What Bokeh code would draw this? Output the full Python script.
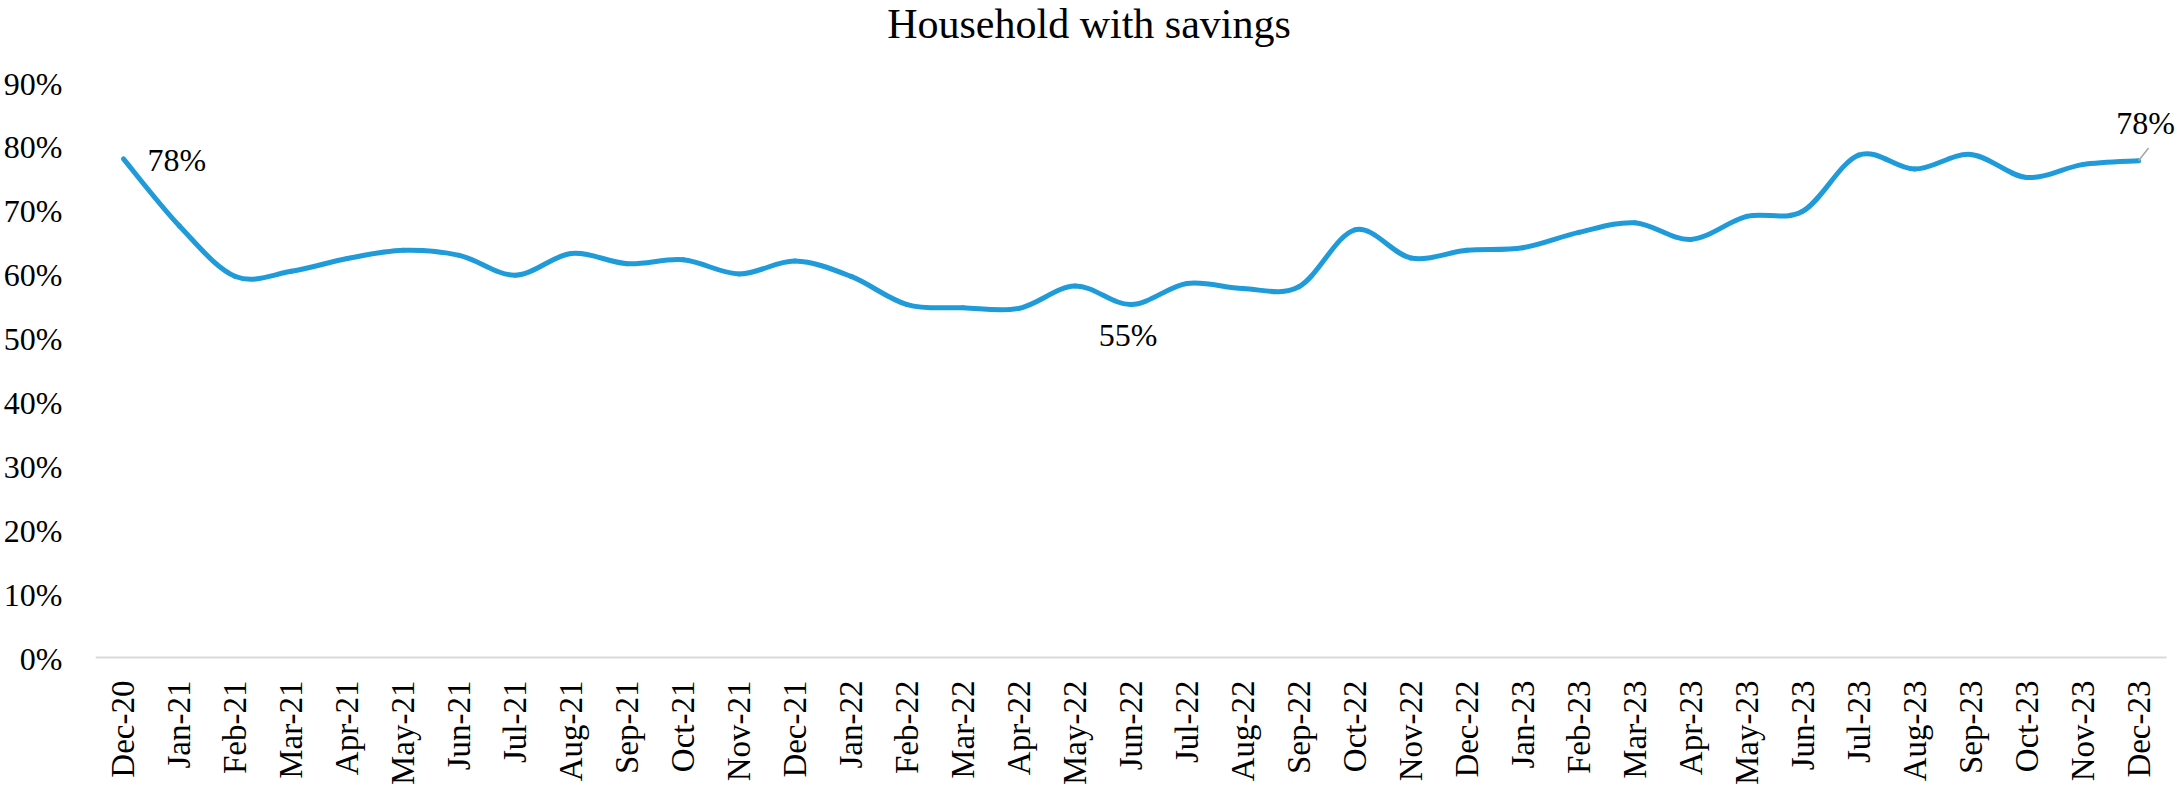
from bokeh.plotting import figure
from bokeh.models import Range1d, FixedTicker, NumeralTickFormatter, Label, ColumnDataSource
from bokeh.embed import file_html
from bokeh.resources import INLINE

title_text = "Household with savings"
categories = ["Dec-20", "Jan-21", "Feb-21", "Mar-21", "Apr-21", "May-21", "Jun-21", "Jul-21",
              "Aug-21", "Sep-21", "Oct-21", "Nov-21", "Dec-21", "Jan-22", "Feb-22", "Mar-22",
              "Apr-22", "May-22", "Jun-22", "Jul-22", "Aug-22", "Sep-22", "Oct-22", "Nov-22",
              "Dec-22", "Jan-23", "Feb-23", "Mar-23", "Apr-23", "May-23", "Jun-23", "Jul-23",
              "Aug-23", "Sep-23", "Oct-23", "Nov-23", "Dec-23"]
savings = [0.782, 0.677, 0.598, 0.606, 0.626, 0.639, 0.631, 0.600,
           0.634, 0.618, 0.624, 0.602, 0.622, 0.598, 0.554, 0.549,
           0.548, 0.583, 0.554, 0.587, 0.579, 0.582, 0.671, 0.627,
           0.639, 0.643, 0.667, 0.682, 0.656, 0.692, 0.700, 0.788,
           0.766, 0.789, 0.753, 0.773, 0.779]
y_ticks = [0.0, 0.1, 0.2, 0.3, 0.4, 0.5, 0.6, 0.7, 0.8, 0.9]
labelled = [0, 18, 36]

LINE_COLOR = "#1F9BDA"
SERIF = "Liberation Serif"

W, H = 2177, 794
LEFT, BOTTOM = 95, 136
TOP_PAD = 83          # space above the 90% level (title area)
RIGHT_PAD = 11        # space right of the last category band (label area)

n = len(categories)
xs = list(range(n))
frame_w = W - LEFT
frame_h = H - BOTTOM
unit_px = (frame_w - RIGHT_PAD) / n
x_end = (n - 0.5) + RIGHT_PAD / unit_px
y_end = y_ticks[-1] * frame_h / (frame_h - TOP_PAD)

p = figure(width=W, height=H, output_backend="svg", toolbar_location=None,
           x_range=Range1d(-0.5, x_end), y_range=Range1d(y_ticks[0], y_end),
           min_border_left=LEFT, min_border_right=0, min_border_top=0, min_border_bottom=BOTTOM)
p.outline_line_color = None
p.xgrid.visible = False
p.ygrid.visible = False
p.background_fill_color = "white"
p.border_fill_color = "white"

# smoothed line (Catmull-Rom as cubic Bezier segments, like Excel's smoothed line)
def pt(i):
    i = max(0, min(n - 1, i))
    return xs[i], savings[i]

x0, y0, x1, y1, cx0, cy0, cx1, cy1 = [], [], [], [], [], [], [], []
for i in range(n - 1):
    pa, pb, pc, pd = pt(i - 1), pt(i), pt(i + 1), pt(i + 2)
    x0.append(pb[0]); y0.append(pb[1])
    x1.append(pc[0]); y1.append(pc[1])
    cx0.append(pb[0] + (pc[0] - pa[0]) / 6.0); cy0.append(pb[1] + (pc[1] - pa[1]) / 6.0)
    cx1.append(pc[0] - (pd[0] - pb[0]) / 6.0); cy1.append(pc[1] - (pd[1] - pb[1]) / 6.0)
src = ColumnDataSource(dict(x0=x0, y0=y0, x1=x1, y1=y1, cx0=cx0, cy0=cy0, cx1=cx1, cy1=cy1))
p.bezier(x0="x0", y0="y0", x1="x1", y1="y1", cx0="cx0", cy0="cy0", cx1="cx1", cy1="cy1",
         source=src, line_color=LINE_COLOR, line_width=5, line_cap="round")

# category axis baseline (only across the category bands)
p.segment(x0=[-0.5], y0=[y_ticks[0]], x1=[n - 0.5], y1=[y_ticks[0]],
          line_color="#D9D9D9", line_width=4)

# axes
p.xaxis.ticker = FixedTicker(ticks=xs)
p.xaxis.major_label_overrides = {i: c for i, c in enumerate(categories)}
p.xaxis.major_label_orientation = 3.14159265 / 2
p.xaxis.major_label_text_font = SERIF
p.xaxis.major_label_text_font_size = "33px"
p.xaxis.major_label_text_color = "black"
p.xaxis.major_label_standoff = 22
p.xaxis.major_tick_out = 0
p.xaxis.major_tick_in = 0
p.xaxis.minor_tick_out = 0
p.xaxis.minor_tick_in = 0
p.xaxis.axis_line_color = None

p.yaxis.ticker = FixedTicker(ticks=y_ticks)
p.yaxis.formatter = NumeralTickFormatter(format="0%")
p.yaxis.major_label_text_font = SERIF
p.yaxis.major_label_text_font_size = "32px"
p.yaxis.major_label_text_color = "black"
p.yaxis.major_label_standoff = 33
p.yaxis.major_tick_out = 0
p.yaxis.major_tick_in = 0
p.yaxis.minor_tick_out = 0
p.yaxis.minor_tick_in = 0
p.yaxis.axis_line_color = None

# title (inside the frame's top padding)
p.add_layout(Label(x=W / 2 - LEFT, y=frame_h - 23, x_units="screen", y_units="screen",
                   text=title_text, text_align="center", text_baseline="middle",
                   text_font=SERIF, text_font_size="42px", text_color="black"))

# data labels
lab_style = dict(text_font=SERIF, text_font_size="32px", text_color="black")
i0, im, ie = labelled
p.add_layout(Label(x=xs[i0], y=savings[i0], text=f"{round(savings[i0]*100)}%", x_offset=24,
                   y_offset=-1, text_align="left", text_baseline="alphabetic", **lab_style))
p.add_layout(Label(x=xs[im], y=savings[im], text=f"{round(savings[im]*100)}%", x_offset=-3,
                   y_offset=-30, text_align="center", text_baseline="alphabetic", **lab_style))
p.segment(x0=[xs[ie]], y0=[savings[ie]], x1=[xs[ie] + 0.18], y1=[savings[ie] + 0.02],
          line_color="#A6A6A6", line_width=1.5)
p.add_layout(Label(x=xs[ie], y=savings[ie], text=f"{round(savings[ie]*100)}%", x_offset=7,
                   y_offset=38, text_align="center", text_baseline="alphabetic", **lab_style))

open("out.html", "w").write(file_html(p, INLINE))
